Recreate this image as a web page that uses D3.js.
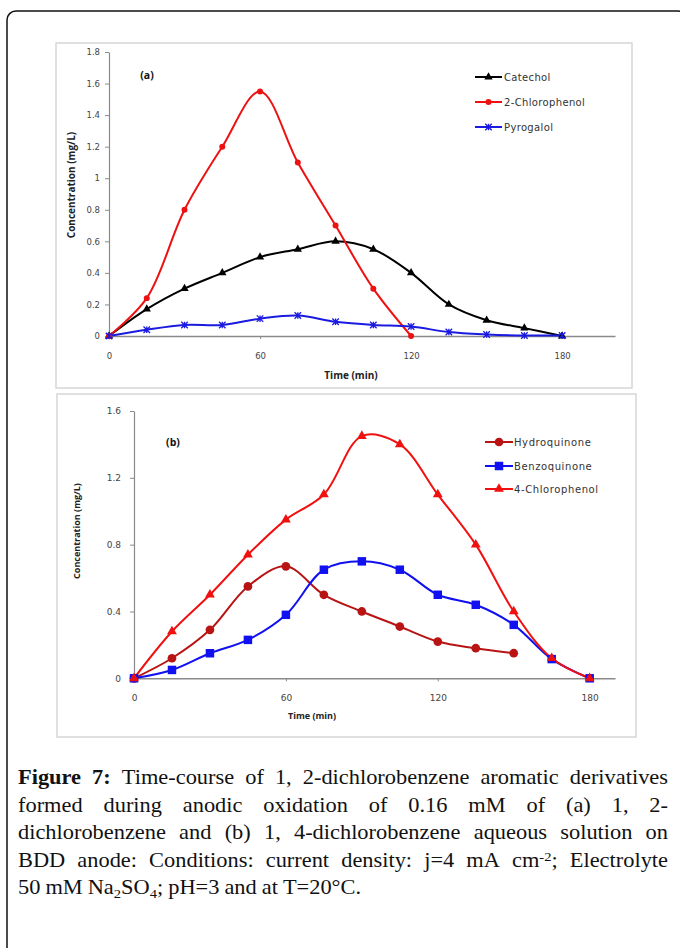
<!DOCTYPE html>
<html>
<head>
<meta charset="utf-8">
<script src="https://cdn.jsdelivr.net/npm/d3@7/dist/d3.min.js"></script>
<style>
  html, body { margin: 0; padding: 0; background: #fff; }
  svg { display: block; }
</style>
</head>
<body>
<svg id="fig" width="680" height="948"></svg>
<script>
// ---------------- DATA ----------------
const timeA = [0, 15, 30, 45, 60, 75, 90, 105, 120, 135, 150, 165, 180];
const catechol      = [0, 0.17, 0.30, 0.40, 0.50, 0.55, 0.60, 0.55, 0.40, 0.20, 0.10, 0.05, 0];
const chlorophenol2 = [0, 0.24, 0.80, 1.20, 1.55, 1.10, 0.70, 0.30, 0];
const pyrogalol     = [0, 0.04, 0.07, 0.07, 0.11, 0.13, 0.09, 0.07, 0.06, 0.025, 0.01, 0.003, 0.003];
const ticksAx = [0, 60, 120, 180];
const ticksAy = [0, 0.2, 0.4, 0.6, 0.8, 1, 1.2, 1.4, 1.6, 1.8];
const seriesNamesA = ["Catechol", "2-Chlorophenol", "Pyrogalol"];

const timeB = [0, 15, 30, 45, 60, 75, 90, 105, 120, 135, 150, 165, 180];
const hydroquinone  = [0, 0.12, 0.29, 0.55, 0.67, 0.50, 0.40, 0.31, 0.22, 0.18, 0.15];
const benzoquinone  = [0, 0.05, 0.15, 0.23, 0.38, 0.65, 0.70, 0.65, 0.50, 0.44, 0.32, 0.115, 0];
const chlorophenol4 = [0, 0.28, 0.50, 0.74, 0.95, 1.10, 1.45, 1.40, 1.10, 0.80, 0.40, 0.12, 0];
const ticksBx = [0, 60, 120, 180];
const ticksBy = [0, 0.4, 0.8, 1.2, 1.6];
const seriesNamesB = ["Hydroquinone", "Benzoquinone", "4-Chlorophenol"];

const captionLines = [
  "**Figure 7:** Time-course of 1, 2-dichlorobenzene aromatic derivatives",
  "formed during anodic oxidation of 0.16 mM of (a) 1, 2-",
  "dichlorobenzene and (b) 1, 4-dichlorobenzene aqueous solution on",
  "BDD anode: Conditions: current density: j=4 mA cm^{-2}; Electrolyte",
  "50 mM Na_{2}SO_{4}; pH=3 and at T=20°C."
];

// ---------------- DRAW ----------------
const svg = d3.select("#fig");

// outer frame
svg.append("rect").attr("x", 7).attr("y", 11).attr("width", 680).attr("height", 1000)
  .attr("rx", 9).attr("fill", "none").attr("stroke", "#111").attr("stroke-width", 1.5);

function asteriskPath(s) {
  const h = s / 2;
  return `M${-h},${-h}L${h},${h}M${-h},${h}L${h},${-h}M0,${-h}L0,${h}`;
}

function drawPanel(cfg) {
  const g = svg.append("g");
  g.append("rect").attr("x", cfg.box[0]).attr("y", cfg.box[1])
    .attr("width", cfg.box[2] - cfg.box[0]).attr("height", cfg.box[3] - cfg.box[1])
    .attr("fill", "#fff").attr("stroke", "#d6d6d6").attr("stroke-width", 1.5);

  const x = d3.scaleLinear().domain([0, cfg.xMax]).range([cfg.x0, cfg.xEnd]);
  const y = d3.scaleLinear().domain([0, cfg.yMax]).range([cfg.y0, cfg.yTop]);

  const yAxis = d3.axisLeft(y).tickValues(cfg.yTicks).tickSize(4).tickSizeOuter(0)
    .tickPadding(cfg.yPad).tickFormat(d => d3.format("")(+d.toFixed(2)));
  const ya = g.append("g").attr("transform", `translate(${cfg.x0},0)`).call(yAxis);
  ya.select(".domain").attr("stroke", "#8a8a8a").attr("stroke-width", 1.2);
  ya.selectAll(".tick line").attr("stroke", "#8a8a8a");
  ya.selectAll(".tick text").attr("fill", "#444").attr("font-family", "DejaVu Sans")
    .attr("font-size", cfg.tickFs);

  const xAxis = d3.axisBottom(x).tickValues(cfg.xTicks).tickSize(3).tickSizeOuter(0)
    .tickPadding(cfg.xPad);
  const xa = g.append("g").attr("transform", `translate(0,${cfg.y0})`).call(xAxis);
  xa.select(".domain").attr("stroke", "#8a8a8a").attr("stroke-width", 1.4);
  xa.selectAll(".tick line").attr("stroke", "#8a8a8a");
  xa.selectAll(".tick text").attr("fill", "#444").attr("font-family", "DejaVu Sans")
    .attr("font-size", cfg.tickFs);

  // axis titles
  g.append("text").attr("x", cfg.xTitle[0]).attr("y", cfg.xTitle[1])
    .attr("text-anchor", "middle").attr("font-family", "Open Sans").attr("font-weight", "bold")
    .attr("font-size", cfg.titleFs).attr("fill", "#222").text("Time (min)");
  g.append("text").attr("transform", `translate(${cfg.yTitle[0]},${cfg.yTitle[1]}) rotate(-90)`)
    .attr("text-anchor", "middle").attr("font-family", "Open Sans").attr("font-weight", "bold")
    .attr("font-size", cfg.titleFs).attr("fill", "#222").text("Concentration (mg/L)");
  g.append("text").attr("x", cfg.label[0]).attr("y", cfg.label[1])
    .attr("text-anchor", "middle").attr("font-family", "Open Sans").attr("font-weight", "bold")
    .attr("font-size", cfg.labelFs).attr("fill", "#111").text(cfg.labelText);

  const line = d3.line().x(d => x(d[0])).y(d => y(d[1])).curve(d3.curveCatmullRom.alpha(0.5));

  cfg.series.forEach(s => {
    const pts = s.values.map((v, i) => [cfg.time[i], v]);
    g.append("path").datum(pts).attr("d", line).attr("fill", "none")
      .attr("stroke", s.color).attr("stroke-width", 2);
  });
  cfg.series.forEach(s => {
    const pts = s.values.map((v, i) => [cfg.time[i], v]);
    drawMarkers(g, pts.map(p => [x(p[0]), y(p[1])]), s);
  });

  // legend
  cfg.series.forEach((s, i) => {
    const ly = cfg.legend.y[i];
    g.append("line").attr("x1", cfg.legend.x1).attr("x2", cfg.legend.x2)
      .attr("y1", ly).attr("y2", ly).attr("stroke", s.color).attr("stroke-width", 2);
    drawMarkers(g, [[(cfg.legend.x1 + cfg.legend.x2) / 2, ly]], s);
    g.append("text").attr("x", cfg.legend.tx).attr("y", ly).attr("dy", "0.35em")
      .attr("font-family", "DejaVu Sans").attr("font-size", cfg.legend.fs)
      .attr("letter-spacing", cfg.legend.ls)
      .attr("fill", "#333").text(s.name);
  });
}

function drawMarkers(g, pts, s) {
  pts.forEach(p => {
    if (s.marker === "asterisk") {
      g.append("path").attr("transform", `translate(${p[0]},${p[1]})`)
        .attr("d", asteriskPath(s.msize)).attr("stroke", s.color).attr("stroke-width", 1.3)
        .attr("fill", "none");
    } else {
      const type = s.marker === "triangle" ? d3.symbolTriangle
                 : s.marker === "square" ? d3.symbolSquare : d3.symbolCircle;
      g.append("path").attr("transform", `translate(${p[0]},${p[1]})`)
        .attr("d", d3.symbol().type(type).size(s.msize)).attr("fill", s.color);
    }
  });
}

drawPanel({
  box: [56, 43, 632, 388],
  x0: 109, xEnd: 615, xMax: 201, y0: 336, yTop: 52, yMax: 1.8,
  xTicks: ticksAx, yTicks: ticksAy, time: timeA,
  yPad: 5, xPad: 14, tickFs: 8.5, titleFs: 10, labelFs: 10.5,
  xTitle: [351, 379], yTitle: [75, 185], label: [147, 79], labelText: "(a)",
  series: [
    { name: seriesNamesA[0], values: catechol, color: "#000000", marker: "triangle", msize: 30 },
    { name: seriesNamesA[1], values: chlorophenol2, color: "#ee1111", marker: "circle", msize: 28 },
    { name: seriesNamesA[2], values: pyrogalol, color: "#1a1ae0", marker: "asterisk", msize: 6.5 }
  ],
  legend: { x1: 475, x2: 502, tx: 504, y: [77, 102, 127], fs: 10, ls: 0.35 }
});

drawPanel({
  box: [57, 394, 636, 737],
  x0: 134, xEnd: 615, xMax: 190, y0: 678.3, yTop: 411, yMax: 1.6,
  xTicks: ticksBx, yTicks: ticksBy, time: timeB,
  yPad: 9, xPad: 13, tickFs: 9, titleFs: 9, labelFs: 10.5,
  xTitle: [312, 719], yTitle: [80, 531], label: [173, 446], labelText: "(b)",
  series: [
    { name: seriesNamesB[0], values: hydroquinone, color: "#b81414", marker: "circle", msize: 60 },
    { name: seriesNamesB[1], values: benzoquinone, color: "#1010f0", marker: "square", msize: 72 },
    { name: seriesNamesB[2], values: chlorophenol4, color: "#f01010", marker: "triangle", msize: 42 }
  ],
  legend: { x1: 485, x2: 513, tx: 514, y: [442, 466, 489], fs: 10, ls: 0.6 }
});

// ---------------- CAPTION (justified) ----------------
function parseWord(w) {
  const runs = [];
  const re = /\*\*(.+?)\*\*|_\{(.+?)\}|\^\{(.+?)\}|([^*_^]+)/g;
  let m;
  while ((m = re.exec(w)) !== null) {
    if (m[1] !== undefined) runs.push({ t: m[1], s: "bold" });
    else if (m[2] !== undefined) runs.push({ t: m[2], s: "sub" });
    else if (m[3] !== undefined) runs.push({ t: m[3], s: "sup" });
    else runs.push({ t: m[4], s: "normal" });
  }
  return runs;
}
function tokenize(line) {
  const words = [];
  const boldRe = /\*\*(.+?)\*\*/;
  const bm = line.match(boldRe);
  let rest = line;
  if (bm) {
    bm[1].split(" ").forEach(w => words.push("**" + w + "**"));
    rest = line.replace(boldRe, "").trim();
  }
  rest.split(" ").filter(w => w.length).forEach(w => words.push(w));
  return words;
}

const capX0 = 18, capX1 = 668, capY0 = 784.5, capLH = 27.4, capFs = 20, capSpace = 5.0, capSx = 1.12;
const capG = svg.append("g").attr("font-family", "Liberation Serif").attr("font-size", capFs)
  .attr("fill", "#111");

captionLines.forEach((line, li) => {
  const lg = capG.append("g").attr("transform", `translate(${capX0},0) scale(${capSx},1)`);
  const words = tokenize(line);
  const baseY = capY0 + li * capLH;
  const nodes = words.map(w => {
    const t = lg.append("text").attr("x", 0).attr("y", baseY);
    parseWord(w).forEach(r => {
      const ts = t.append("tspan").text(r.t);
      if (r.s === "bold") ts.attr("font-weight", "bold");
      if (r.s === "sub") ts.attr("font-size", capFs * 0.65).attr("baseline-shift", "-25%");
      if (r.s === "sup") ts.attr("font-size", capFs * 0.65).attr("baseline-shift", "45%");
    });
    return t;
  });
  const widths = nodes.map(n => n.node().getComputedTextLength());
  const avail = (capX1 - capX0) / capSx;
  const total = d3.sum(widths);
  const last = li === captionLines.length - 1;
  const gap = last ? capSpace / capSx : (avail - total) / (nodes.length - 1);
  let cx = 0;
  nodes.forEach((n, i) => { n.attr("x", cx); cx += widths[i] + gap; });
});
</script>
</body>
</html>
